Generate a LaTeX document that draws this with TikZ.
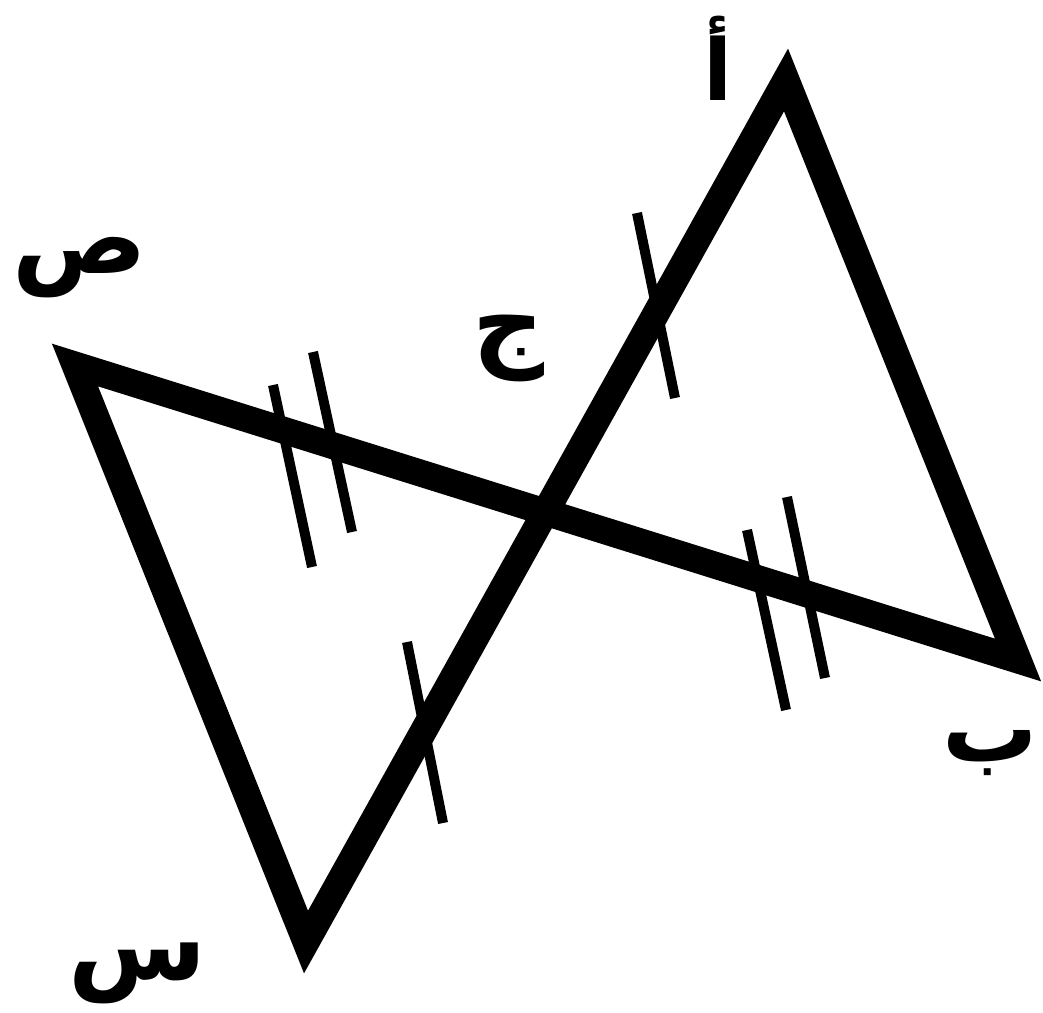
\documentclass[tikz,border=0pt]{standalone}
\usepackage{fontspec}
\newfontfamily\arabicfont[Script=Arabic]{DejaVu Sans}
\TeXXeTstate=1
\begin{document}
\begin{tikzpicture}[x=1pt,y=-1pt,
  side/.style={line width=27pt,line join=miter,miter limit=10},
  tick/.style={line width=10pt},
  lbl/.style={font=\arabicfont\bfseries\fontsize{100}{110}\selectfont,inner sep=0pt,anchor=center}]
\useasboundingbox (0,0) rectangle (1043,1012);
\coordinate (A) at (786,80);
\coordinate (B) at (1018,660);
\coordinate (Sad) at (75,365);
\coordinate (Sin) at (306,942);
\draw[side] (A) -- (B) -- (Sad) -- (Sin) -- cycle;
% single ticks
\coordinate (t1a) at (637,213); \coordinate (t1b) at (675,398);
\coordinate (t2a) at (407,642); \coordinate (t2b) at (443,823);
\draw[tick] (t1a) -- (t1b);
\draw[tick] (t2a) -- (t2b);
% double ticks
\coordinate (d1a) at (273,385); \coordinate (d1b) at (312,567);
\coordinate (d2a) at (313,352); \coordinate (d2b) at (352,532);
\coordinate (d3a) at (747,530); \coordinate (d3b) at (786,710);
\coordinate (d4a) at (787,497); \coordinate (d4b) at (825,678);
\draw[tick] (d1a) -- (d1b);
\draw[tick] (d2a) -- (d2b);
\draw[tick] (d3a) -- (d3b);
\draw[tick] (d4a) -- (d4b);
% labels
\node[lbl,font=\arabicfont\bfseries\fontsize{85}{95}\selectfont] (lA) at (718,58) {\beginR أ\endR};
\node[lbl] (lSad) at (80,268) {\beginR ص\endR};
\node[lbl] (lJ) at (509,348) {\beginR ج\endR};
\node[lbl,font=\arabicfont\bfseries\fontsize{95}{105}\selectfont] (lB) at (990,753) {\beginR ب\endR};
\node[lbl] (lSin) at (137,973) {\beginR س\endR};
\end{tikzpicture}
\end{document}
